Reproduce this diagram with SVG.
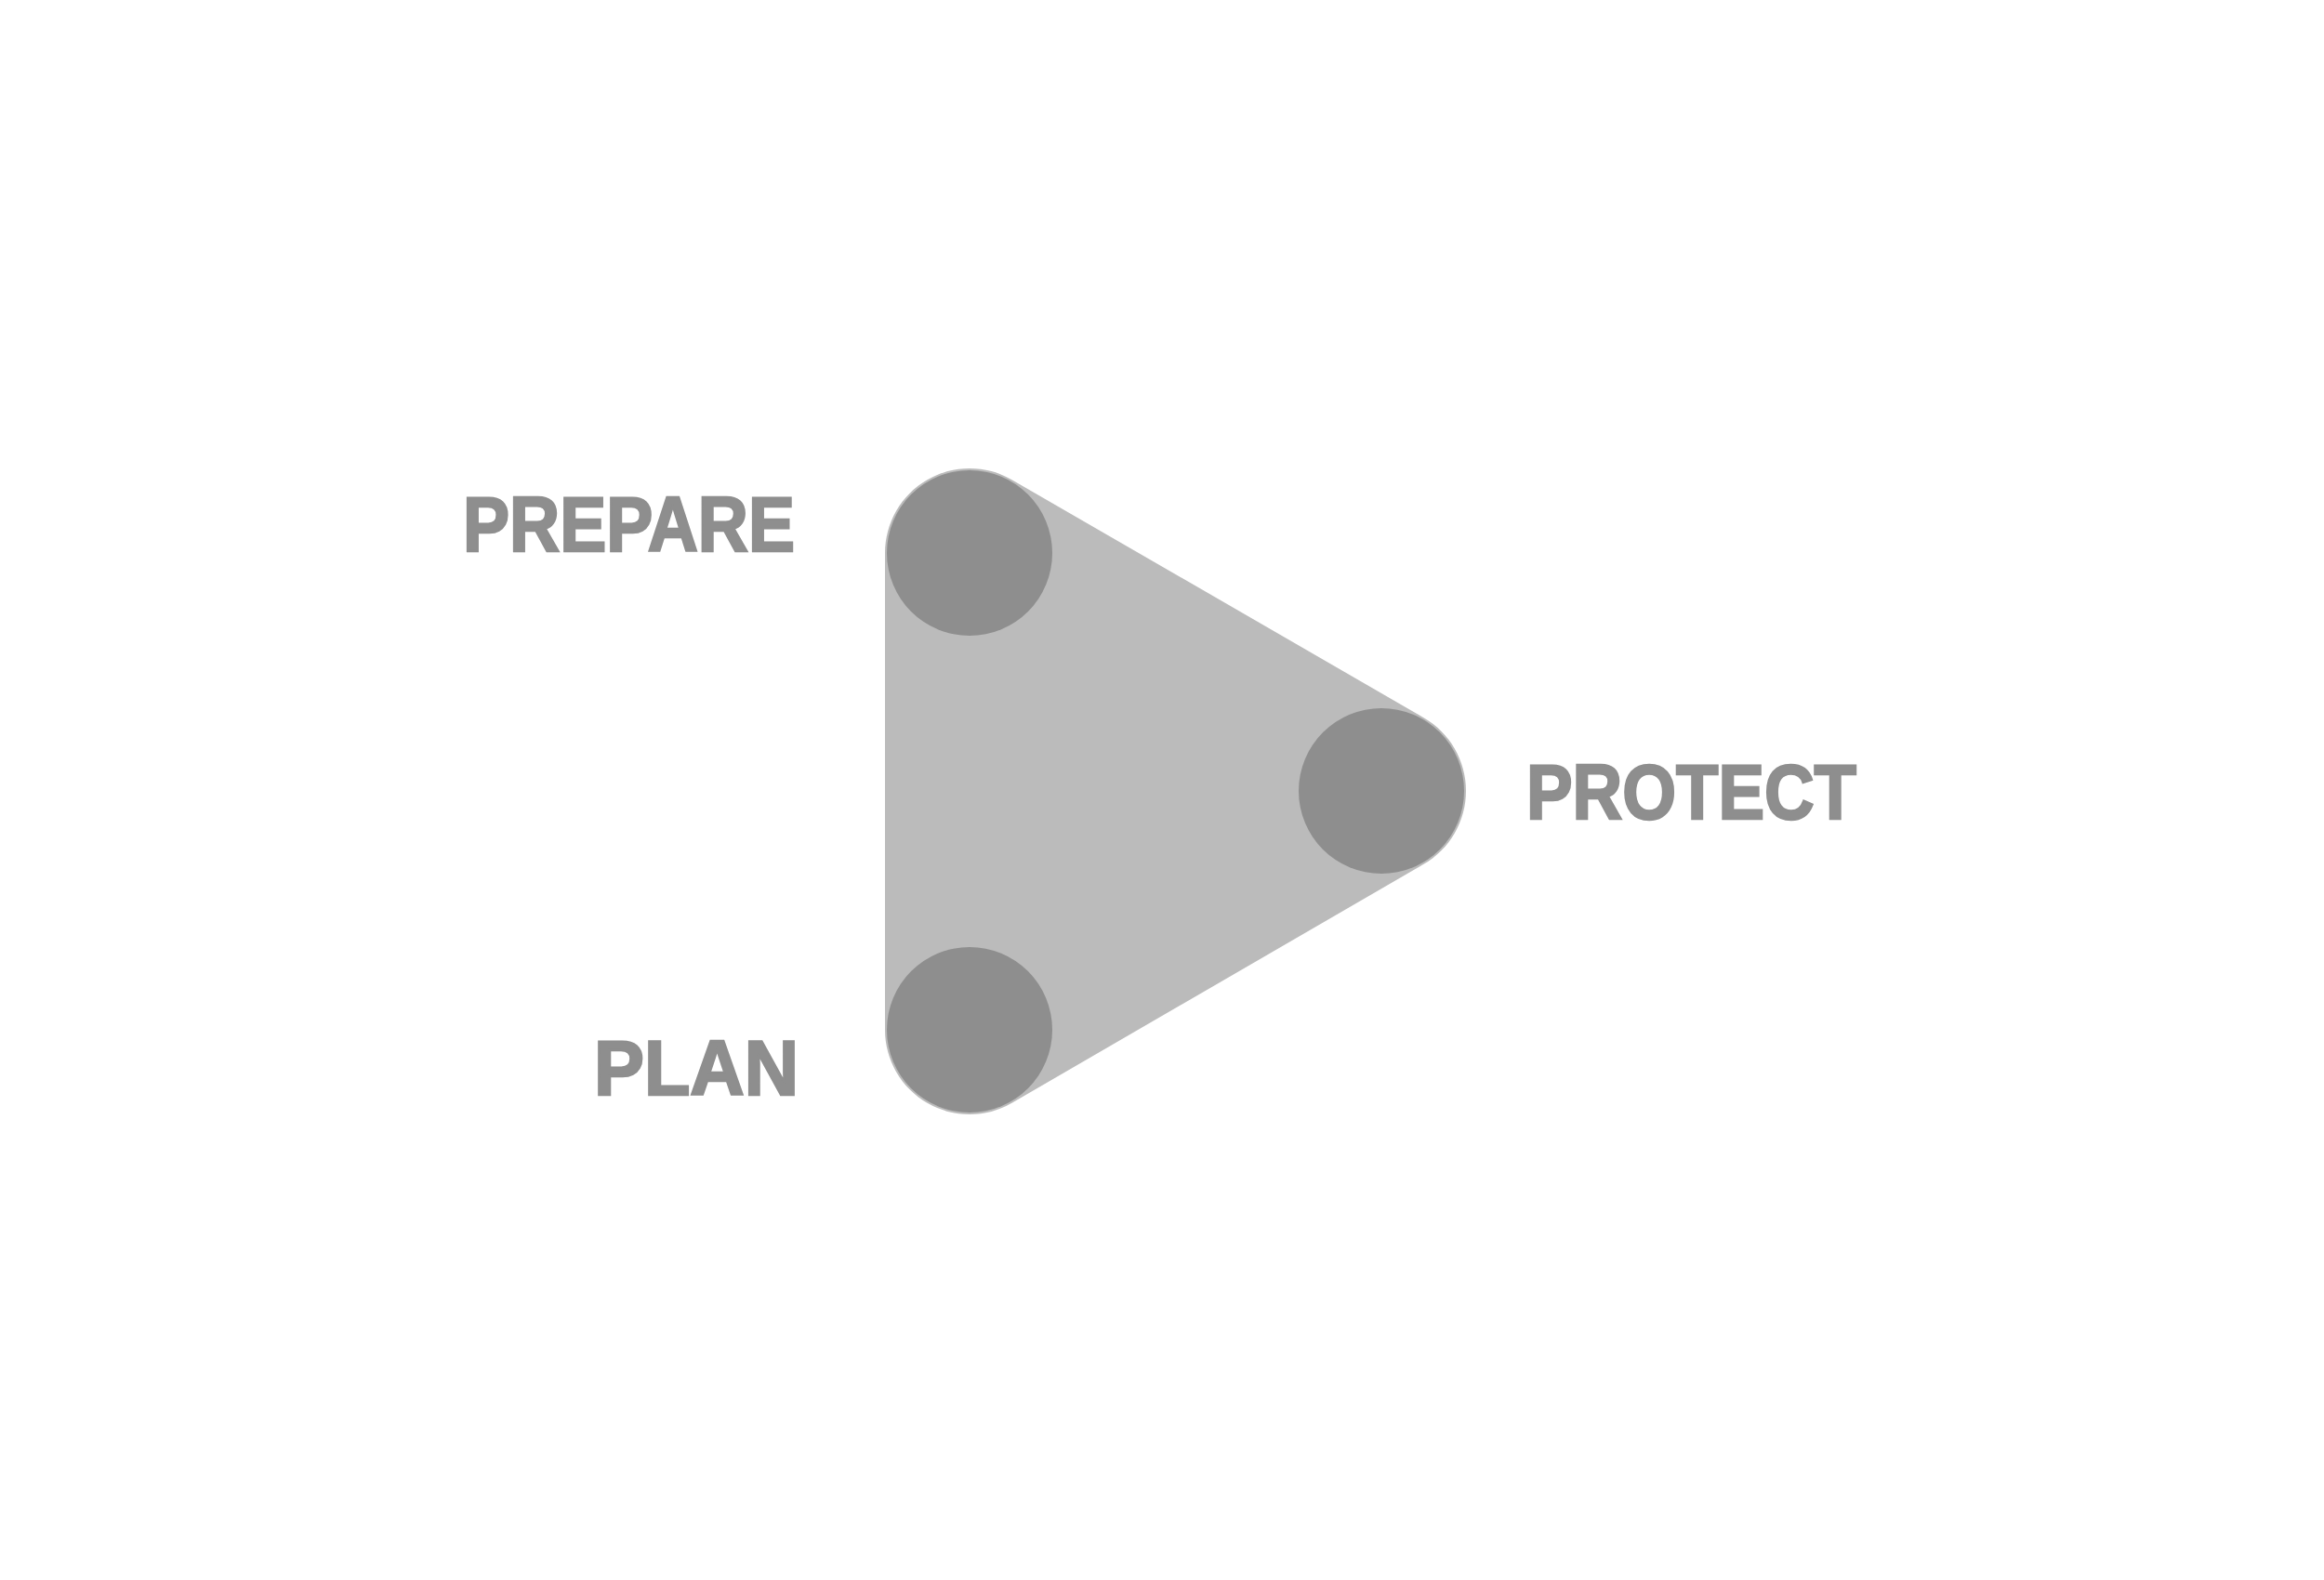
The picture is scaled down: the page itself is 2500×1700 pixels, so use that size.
<svg xmlns="http://www.w3.org/2000/svg" width="2500" height="1700" viewBox="0 0 2500 1700">
<style>
.hull{fill:#bbbbbb;}
.dot{fill:#8e8e8e;}
.lbl{fill:#8e8e8e;stroke:#8e8e8e;stroke-width:2.5;stroke-linejoin:miter;font-family:"Liberation Sans","Arial",sans-serif;font-weight:bold;font-size:83px;}
</style>
<rect width="2500" height="1700" fill="#ffffff"/>
<g id="connectors">
<path class="hull" d="M 952 595 A 91 91 0 0 1 1088.5 516.2 L 1531.5 772.2 A 91 91 0 0 1 1531.5 929.8 L 1088.5 1186.8 A 91 91 0 0 1 952 1108 Z"/>
</g>
<g id="prepare">
<circle class="dot" cx="1043" cy="595" r="89"/>
<text class="lbl" x="498" y="593" textLength="357" lengthAdjust="spacingAndGlyphs">PREPARE</text>
</g>
<g id="protect">
<circle class="dot" cx="1486" cy="851" r="89"/>
<text class="lbl" x="1642" y="881" textLength="355" lengthAdjust="spacingAndGlyphs">PROTECT</text>
</g>
<g id="plan">
<circle class="dot" cx="1043" cy="1108" r="89"/>
<text class="lbl" x="639" y="1178" textLength="220" lengthAdjust="spacingAndGlyphs">PLAN</text>
</g>
</svg>
